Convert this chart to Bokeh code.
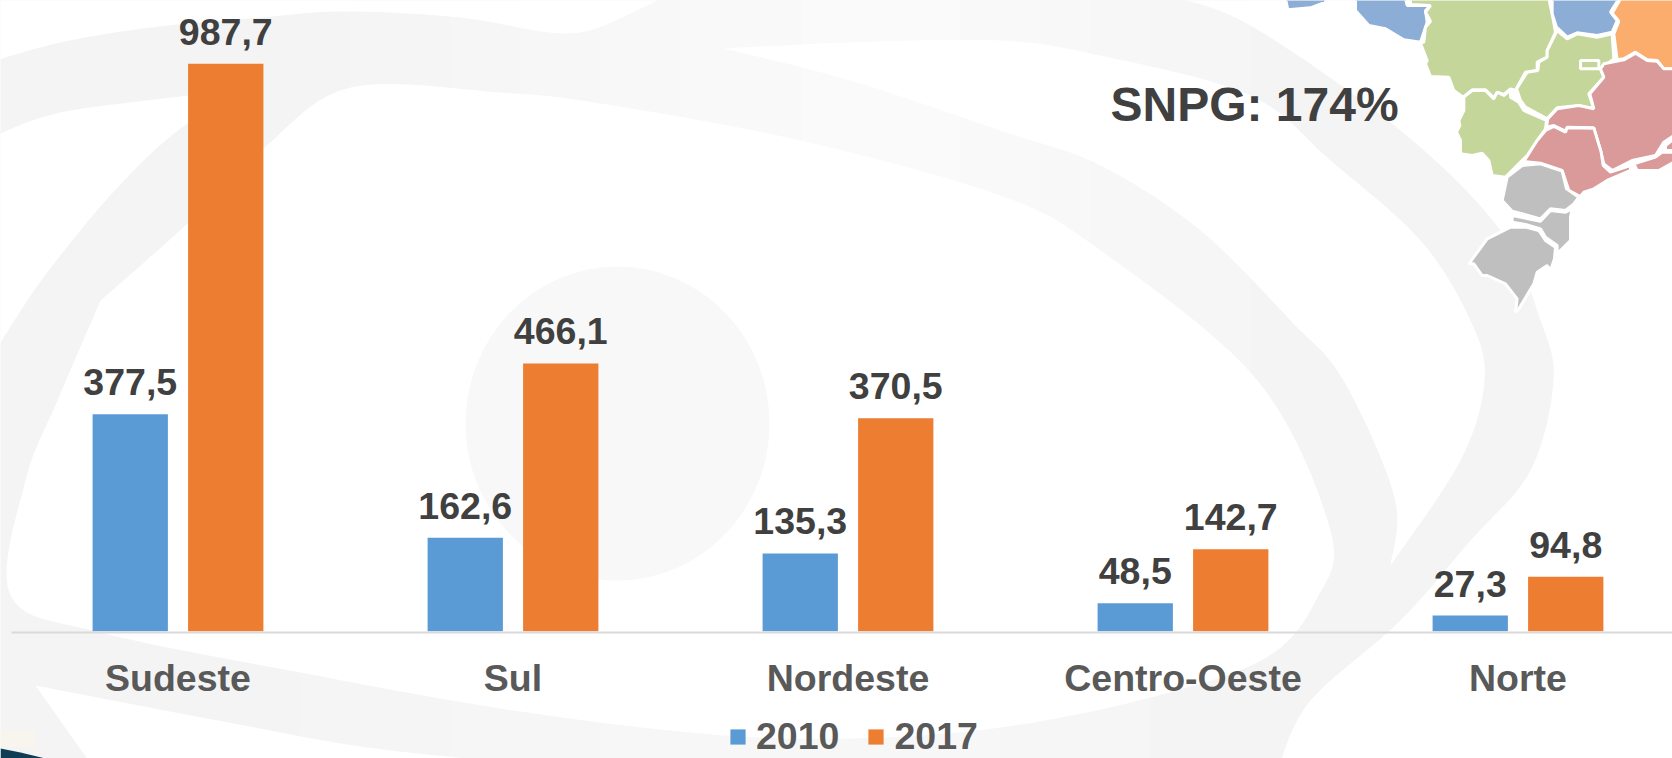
from bokeh.plotting import figure
from bokeh.embed import file_html
from bokeh.resources import INLINE
from bokeh.core.properties import value
from bokeh.models import Range1d, FixedTicker, Legend, LegendItem, ColumnDataSource

regions = ["Sudeste", "Sul", "Nordeste", "Centro-Oeste", "Norte"]
values_2010 = [377.5, 162.6, 135.3, 48.5, 27.3]
values_2017 = [987.7, 466.1, 370.5, 142.7, 94.8]
series_names = ["2010", "2017"]
annotation = "SNPG: 174%"

W, H = 1672, 758
PX_PER_CAT = 335.0
PX_PER_VAL = 0.5745
X0_PX = 177.5
Y0_PX = 630.7
FONT = "Liberation Sans"
BLUE, ORANGE = "#5B9BD5", "#ED7D31"


def smooth(pts, n=10):
    out = []
    P = [pts[0]] + list(pts) + [pts[-1]]
    for i in range(1, len(P) - 2):
        p0, p1, p2, p3 = P[i - 1], P[i], P[i + 1], P[i + 2]
        for k in range(n):
            t = k / n
            out.append(tuple(
                0.5 * (2 * p1[d] + (p2[d] - p0[d]) * t
                       + (2 * p0[d] - 5 * p1[d] + 4 * p2[d] - p3[d]) * t * t
                       + (3 * p1[d] - p0[d] - 3 * p2[d] + p3[d]) * t ** 3)
                for d in (0, 1)))
    out.append(pts[-1])
    return out


p = figure(width=W, height=H, output_backend="svg", toolbar_location=None, min_border=0,
           x_range=Range1d(-X0_PX / PX_PER_CAT, (W - X0_PX) / PX_PER_CAT),
           y_range=Range1d(-(H - Y0_PX) / PX_PER_VAL, Y0_PX / PX_PER_VAL),
           background_fill_color="white", border_fill_color="white",
           outline_line_color=None)
p.extra_x_ranges["px"] = Range1d(0, W)
p.extra_y_ranges["py"] = Range1d(H, 0)
p.grid.visible = False
p.yaxis.visible = False


def deco(shape, color, line=None, lw=0):
    p.patch([q[0] for q in shape], [q[1] for q in shape], fill_color=color,
            line_color=line, line_width=lw, x_range_name="px", y_range_name="py")


def rect(x0, x1, y0, y1, color):
    deco([(x0, y0), (x1, y0), (x1, y1), (x0, y1)], color)


# pale watermark: a grey ground, lighter strips, then white masks cut the swirl out of it
rect(-5, W + 5, -5, H + 5, "#f4f4f4")
for x0, x1, c in [(350, 450, "#f5f5f5"), (450, 520, "#f6f6f6"), (520, 600, "#f7f7f7"),
                  (600, 680, "#f8f8f8"), (680, 800, "#f9f9f9"), (800, 960, "#fafafa"),
                  (960, 1040, "#f9f9f9"), (1040, 1090, "#f8f8f8"), (1090, 1150, "#f7f7f7"),
                  (1150, 1250, "#f6f6f6")]:
    rect(x0, x1, -5, 400, c)
for x0, x1, c in [(300, 450, "#f5f5f5"), (450, 600, "#f6f6f6"), (600, 1000, "#f7f7f7"),
                  (1000, 1150, "#f6f6f6")]:
    rect(x0, x1, 600, H + 5, c)
WHITE = "#ffffff"
# top-left notch
deco(smooth([(-5, 60), (60, 42), (150, 27), (260, 17), (345, 11), (460, 17), (570, 33), (640, 8), (665, -5)])
     + [(-5, -5)], WHITE)
# everything outside the loop on the right
deco(smooth([(1167, -5), (1250, 25), (1400, 130), (1500, 230), (1540, 320), (1553, 380), (1530, 470),
             (1470, 540), (1400, 620), (1310, 700), (1279, 763)])
     + [(W + 5, 763), (W + 5, -5)], WHITE)
# inside of the loop
deco(smooth([(100, 300), (187, 223), (263, 148), (350, 87), (500, 92), (600, 103), (800, 140), (1000, 195),
             (1100, 250), (1257, 380), (1330, 530), (1317, 597), (1266, 657), (1150, 697), (1000, 727),
             (850, 738), (700, 733), (500, 708), (300, 672), (100, 632), (10, 595), (25, 480), (57, 400), (100, 300)]),
     WHITE)
# wedge between the two left-hand arcs
deco(smooth([(-5, 135), (60, 112), (187, 95), (263, 85)]) + smooth([(263, 85), (187, 123), (117, 187), (43, 277), (-5, 350)]),
     WHITE)
# channel between the two upper arcs on the right
deco(smooth([(723, 48), (850, 42), (1000, 40), (1100, 55), (1250, 95), (1330, 160), (1420, 240), (1470, 320),
             (1484, 380), (1460, 460), (1390, 565)])
     + smooth([(1390, 565), (1394, 497), (1343, 380), (1290, 320), (1200, 230), (1100, 165), (1000, 130), (850, 80), (723, 48)]),
     WHITE)
# bottom-left wedge
deco(smooth([(35, 685), (233, 723), (367, 747), (520, 763)]) + [(90, 763)], WHITE)
p.ellipse(x=[617], y=[423], width=[304], height=[314], fill_color="#f8f8f8", line_color=None,
          x_range_name="px", y_range_name="py")
deco([(0, 730), (35, 730), (35, 748), (0, 746)], "#f8f5ef")
deco([(0, 748), (20, 752), (45, 758), (0, 758)], "#0F3D55")

MAP_X, MAP_Y, MAP_S = 1250, 0, 3.0
map_shapes = [
    ("#8CADD5", [(105,-5),(112,28),(180,22),(225,5),(225,-5)]),
    ("#8CADD5", [(315,-5),(315,30),(355,75),(405,85),(460,118),(510,125),(530,65),(525,30),(540,15),(470,15),(465,-5)]),
    ("#C5D69B", [(480,-5),(480,12),(540,15),(525,35),(540,62),(525,80),(520,125),(510,128),(530,180),(525,190),(540,228),(595,230),(610,270),(638,290),(665,268),(705,268),(730,292),(740,275),(760,282),(780,265),(797,270),(800,260),(825,215),(860,210),(860,185),(890,170),(890,150),(915,95),(905,40),(895,-5)]),
    ("#8CADD5", [(905,-5),(905,40),(918,80),(950,110),(980,97),(1040,105),(1085,95),(1100,60),(1080,35),(1105,-5)]),
    ("#FAAD6D", [(1110,-5),(1085,38),(1105,62),(1090,100),(1100,178),(1120,175),(1155,155),(1190,178),(1220,180),(1240,205),(1270,205),(1270,-5)]),
    ("#C5D69B", [(920,90),(950,115),(980,100),(1040,110),(1085,100),(1090,175),(1050,205),(1060,230),(1015,280),(1030,325),(985,315),(920,322),(890,355),(825,320),(810,300),(798,265),(830,215),(862,210),(865,185),(890,170),(890,150),(915,100)]),
    ("#C5D69B", [(990,180),(1045,180),(1045,205),(990,205)]),
    ("#C5D69B", [(640,290),(665,270),(705,270),(730,295),(740,275),(760,285),(780,268),(780,290),(805,305),(820,330),(888,360),(885,385),(860,420),(830,465),(765,530),(725,525),(715,480),(695,458),(665,465),(630,460),(630,420),(618,395),(628,375),(625,360),(640,330)]),
    ("#DA9A9A", [(1270,205),(1240,205),(1220,182),(1190,180),(1155,158),(1120,178),(1060,190),(1050,205),(1060,230),(1018,280),(1030,325),(985,315),(920,325),(892,355),(888,380),(910,375),(945,392),(950,380),(1030,382),(1050,450),(1060,490),(1085,510),(1145,480),(1215,465),(1240,425),(1270,405)]),
    ("#DA9A9A", [(885,390),(910,378),(945,395),(950,382),(1030,383),(1052,455),(1058,495),(1080,515),(1140,495),(1140,510),(1070,540),(1030,565),(1000,575),(990,588),(955,570),(935,510),(870,488),(820,483),(860,420)]),
    ("#DA9A9A", [(1150,490),(1215,470),(1235,455),(1270,455),(1270,485),(1225,510),(1160,510)]),
    ("#DA9A9A", [(1270,415),(1245,435),(1245,450),(1270,450)]),
    ("#BFBFBF", [(815,495),(870,490),(935,512),(948,565),(985,590),(970,610),(945,630),(900,625),(870,655),(785,632),(755,600),(770,530)]),
    ("#BFBFBF", [(785,645),(870,662),(900,630),(945,635),(965,625),(960,650),(960,720),(920,760),(920,735),(885,710),(870,685),(825,672),(785,665)]),
    ("#BFBFBF", [(780,680),(825,680),(865,690),(885,720),(915,740),(912,775),(900,810),(890,795),(860,815),(850,850),(805,925),(795,935),(800,895),(765,850),(710,825),(695,825),(670,790),(655,790),(710,715)]),
]
for col, pts in map_shapes:
    deco([(MAP_X + a / MAP_S, MAP_Y + b / MAP_S) for a, b in pts], col, "white", 3)

# bars
OFFSET = 47.75 / PX_PER_CAT
BAR_W = 75.3 / PX_PER_CAT
idx = list(range(len(regions)))
fmt = lambda v: f"{v:.1f}".replace(".", ",")
src = ColumnDataSource(dict(
    x1=[i - OFFSET for i in idx], x2=[i + OFFSET for i in idx],
    y1=values_2010, y2=values_2017,
    t1=[fmt(v) for v in values_2010], t2=[fmt(v) for v in values_2017]))
b1 = p.vbar(x="x1", top="y1", bottom=0, width=BAR_W, source=src, fill_color=BLUE, line_color=None)
b2 = p.vbar(x="x2", top="y2", bottom=0, width=BAR_W, source=src, fill_color=ORANGE, line_color=None)
for xc, yc, tc in (("x1", "y1", "t1"), ("x2", "y2", "t2")):
    p.text(x=xc, y=yc, text=tc, source=src, text_align="center", text_baseline="alphabetic",
           y_offset=-32, text_font=value(FONT), text_font_style="bold", text_font_size="37.5px",
           text_color="#404040")

# annotation
p.text(x=[1110], y=[104], text=[annotation], x_range_name="px", y_range_name="py",
       text_align="left", text_baseline="alphabetic", text_font=value(FONT),
       text_font_style="bold", text_font_size="48px", text_color="#404040")

# axis
ax = p.xaxis[0]
ax.ticker = FixedTicker(ticks=idx)
ax.major_label_overrides = {i: r for i, r in zip(idx, regions)}
ax.fixed_location = -1.7
ax.bounds = ((11 - X0_PX) / PX_PER_CAT, (W - X0_PX) / PX_PER_CAT)
ax.axis_line_color = "#D9D9D9"
ax.axis_line_width = 2
ax.major_tick_line_color = None
ax.minor_tick_line_color = None
ax.major_label_text_font = FONT
ax.major_label_text_font_style = "bold"
ax.major_label_text_font_size = "37.5px"
ax.major_label_text_color = "#595959"
ax.major_label_standoff = 19

# legend
legend = Legend(items=[LegendItem(label=series_names[0], renderers=[b1]),
                       LegendItem(label=series_names[1], renderers=[b2])],
                orientation="horizontal", location=(728, 0),
                glyph_width=19, glyph_height=19, label_standoff=9, spacing=27,
                padding=0, margin=0, background_fill_alpha=0, border_line_color=None,
                label_text_font=FONT, label_text_font_style="bold",
                label_text_font_size="37.5px", label_text_color="#595959")
p.add_layout(legend)

open("out.html", "w").write(file_html(p, INLINE))
